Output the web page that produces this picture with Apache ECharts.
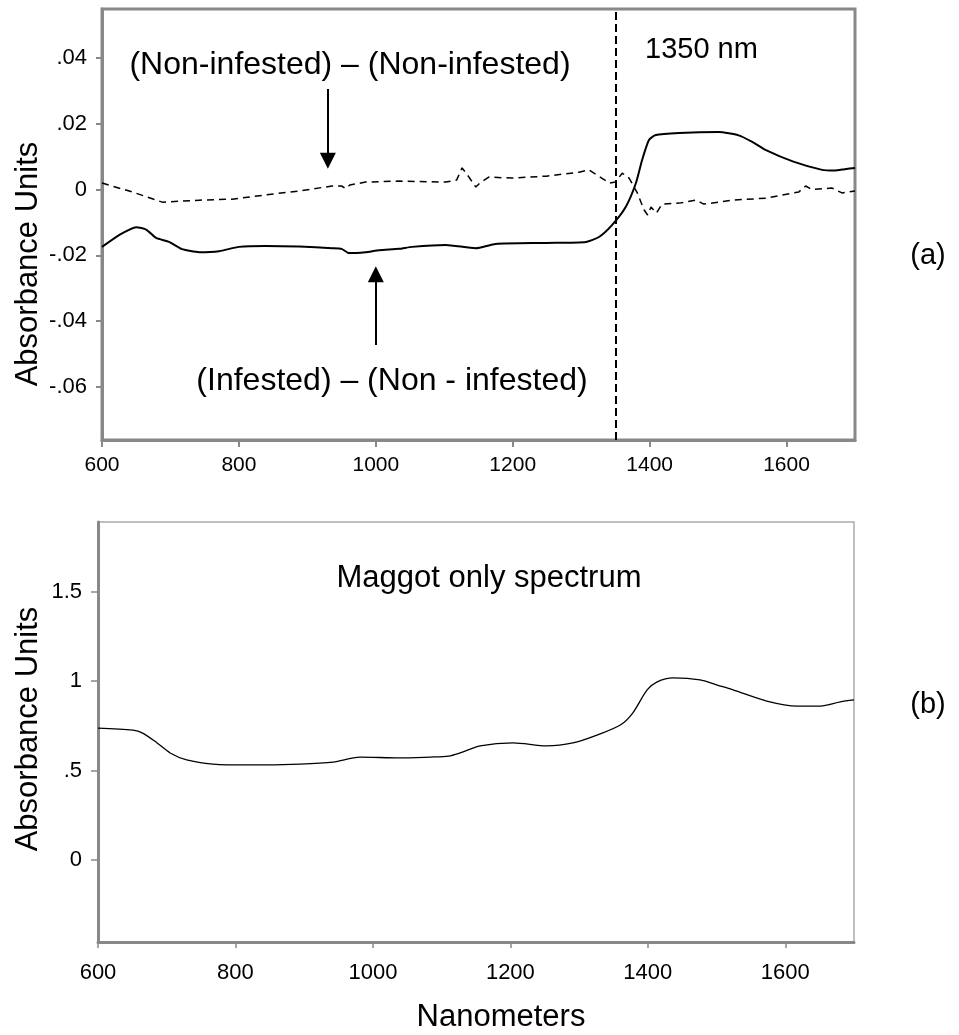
<!DOCTYPE html>
<html>
<head>
<meta charset="utf-8">
<script src="https://cdn.jsdelivr.net/npm/echarts@6/dist/echarts.min.js"></script>
<style>
html,body{margin:0;padding:0;background:#fff;}
#chart{width:959px;height:1035px;}
</style>
</head>
<body>
<div id="chart"></div>
<script>
// ---- Data (wavelength in nm, absorbance units) ----
const infestedNm = [600,625,650,665,679,698,717,742,771,800,839,888,936,950,961,985,1005,1034,1053,1102,1146,1175,1249,1307,1326,1345,1365,1380,1389,1399,1409,1443,1501,1530,1550,1570,1610,1652,1670,1685,1700];
const infestedVal = [-0.0174,-0.0138,-0.0114,-0.0122,-0.0147,-0.0159,-0.0181,-0.019,-0.0187,-0.0174,-0.0171,-0.0173,-0.0178,-0.018,-0.0193,-0.019,-0.0184,-0.018,-0.0174,-0.0168,-0.0178,-0.0165,-0.0162,-0.0159,-0.0144,-0.0108,-0.0053,0.002,0.009,0.0151,0.0166,0.0172,0.0175,0.0165,0.0145,0.012,0.0085,0.006,0.0058,0.0062,0.0066];

const controlNm = [600,644,688,742,790,839,888,936,950,956,962,985,1034,1102,1118,1126,1134,1146,1152,1165,1199,1249,1297,1311,1330,1341,1350,1360,1370,1382,1392,1397,1402,1410,1418,1443,1468,1479,1501,1520,1570,1618,1628,1637,1666,1681,1700];
const controlVal = [0.002,-0.0007,-0.0038,-0.0032,-0.0029,-0.0016,-0.0004,0.0011,0.0011,0.0003,0.0014,0.0023,0.0026,0.0023,0.0029,0.0066,0.0044,0.0008,0.002,0.0038,0.0035,0.0041,0.0053,0.006,0.0035,0.002,0.0023,0.005,0.0035,-0.001,-0.0062,-0.0077,-0.0053,-0.0071,-0.0044,-0.0041,-0.0032,-0.0044,-0.0038,-0.0032,-0.0026,-0.0007,0.0011,0,0.0005,-0.001,-0.0004];

const maggotNm = [600,651,665,686,705,729,767,821,894,942,981,1039,1083,1110,1127,1156,1204,1253,1291,1326,1360,1378,1399,1413,1437,1476,1500,1524,1573,1617,1651,1680,1700];
const maggotVal = [0.737,0.726,0.709,0.654,0.598,0.559,0.536,0.531,0.536,0.547,0.575,0.57,0.575,0.58,0.598,0.637,0.654,0.637,0.654,0.698,0.754,0.821,0.95,0.994,1.017,1.006,0.978,0.95,0.888,0.86,0.86,0.883,0.894];

const xTicks = [600,800,1000,1200,1400,1600];
const yTicksA = [-0.06,-0.04,-0.02,0,0.02,0.04];
const yTicksB = [0,0.5,1,1.5];
const markerNm = 1350;

// annotation arrows (data coordinates): [x, yStart, yEnd]
const arrowDown = [930, 0.0306, 0.0088];
const arrowUp = [1000, -0.0472, -0.0257];

const zip = (a, b) => a.map((v, i) => [v, b[i]]);
const fmtX = v => String(v);
const fmtA = v => v === 0 ? '0' : (v < 0 ? '-' : '') + Math.abs(v).toFixed(2).replace(/^0/, '');
const fmtB = v => v === 0 ? '0' : (v < 1 ? String(v).replace(/^0/, '') : String(v));

const FONT = 'Liberation Sans, Arial, Helvetica, sans-serif';
const GRAY = '#888888';

const chart = echarts.init(document.getElementById('chart'), null, {renderer: 'canvas'});

const option = {
  animation: false,
  backgroundColor: '#ffffff',
  grid: [
    {left: 102, top: 9, width: 753, height: 431, show: true, borderColor: GRAY, borderWidth: 3, outerBoundsMode: 'none'},
    {left: 98, top: 522, width: 756, height: 420, show: true, borderColor: '#aaaaaa', borderWidth: 1.5, outerBoundsMode: 'none'}
  ],
  xAxis: [
    {
      type: 'value', gridIndex: 0, min: 600, max: 1700,
      splitLine: {show: false},
      axisLine: {show: true, onZero: false, lineStyle: {color: GRAY, width: 3}},
      axisTick: {show: true, length: 7, lineStyle: {color: GRAY, width: 2}, customValues: xTicks},
      axisLabel: {customValues: xTicks, formatter: fmtX, fontFamily: FONT, fontSize: 21, color: '#000', margin: 15}
    },
    {
      type: 'value', gridIndex: 1, min: 600, max: 1700,
      splitLine: {show: false},
      axisLine: {show: true, onZero: false, lineStyle: {color: GRAY, width: 3}},
      axisTick: {show: true, length: 6, lineStyle: {color: GRAY, width: 1.5}, customValues: xTicks},
      axisLabel: {customValues: xTicks, formatter: fmtX, fontFamily: FONT, fontSize: 22, color: '#000', margin: 20}
    }
  ],
  yAxis: [
    {
      type: 'value', gridIndex: 0, min: -0.0761, max: 0.0549,
      splitLine: {show: false},
      axisLine: {show: true, onZero: false, lineStyle: {color: GRAY, width: 3}},
      axisTick: {show: true, length: 6, lineStyle: {color: GRAY, width: 2}, customValues: yTicksA},
      axisLabel: {customValues: yTicksA, formatter: fmtA, fontFamily: FONT, fontSize: 22, color: '#000', margin: 15, padding: [18, 0, 0, 0]}
    },
    {
      type: 'value', gridIndex: 1, min: -0.458, max: 1.888,
      splitLine: {show: false},
      axisLine: {show: true, onZero: false, lineStyle: {color: GRAY, width: 3}},
      axisTick: {show: true, length: 7, lineStyle: {color: GRAY, width: 1.5}, customValues: yTicksB},
      axisLabel: {customValues: yTicksB, formatter: fmtB, fontFamily: FONT, fontSize: 22, color: '#000', margin: 16}
    }
  ],
  series: [
    {
      name: '(Infested) – (Non - infested)', type: 'line', xAxisIndex: 0, yAxisIndex: 0,
      data: zip(infestedNm, infestedVal), symbol: 'none', smooth: 0.2,
      lineStyle: {color: '#000', width: 2},
      markLine: {
        silent: true, animation: false,
        label: {show: false},
        lineStyle: {color: '#000', width: 2, type: 'solid'},
        data: [
          [{coord: [arrowDown[0], arrowDown[1]], symbol: 'none'}, {coord: [arrowDown[0], arrowDown[2]], symbol: 'triangle', symbolSize: [16, 16]}],
          [{coord: [arrowUp[0], arrowUp[1]], symbol: 'none'}, {coord: [arrowUp[0], arrowUp[2]], symbol: 'triangle', symbolSize: [16, 16]}]
        ]
      }
    },
    {
      name: '(Non-infested) – (Non-infested)', type: 'line', xAxisIndex: 0, yAxisIndex: 0,
      data: zip(controlNm, controlVal), symbol: 'none',
      lineStyle: {color: '#000', width: 1.5, type: [7, 5]},
      markLine: {
        silent: true, animation: false, symbol: ['none', 'none'],
        label: {show: false},
        lineStyle: {color: '#000', width: 2, type: [8, 4]},
        data: [{xAxis: markerNm}]
      }
    },
    {
      name: 'Maggot only spectrum', type: 'line', xAxisIndex: 1, yAxisIndex: 1,
      data: zip(maggotNm, maggotVal), symbol: 'none', smooth: 0.3,
      lineStyle: {color: '#000', width: 1.3}
    }
  ],
  graphic: [
    {type: 'text', x: 350, y: 65, style: {text: '(Non-infested) – (Non-infested)', font: '32px ' + FONT, fill: '#000', align: 'center', verticalAlign: 'middle'}},
    {type: 'text', x: 392, y: 381, style: {text: '(Infested) – (Non - infested)', font: '32px ' + FONT, fill: '#000', align: 'center', verticalAlign: 'middle'}},
    {type: 'text', x: 645, y: 50, style: {text: '1350 nm', font: '29px ' + FONT, fill: '#000', align: 'left', verticalAlign: 'middle'}},
    {type: 'text', x: 489, y: 578, style: {text: 'Maggot only spectrum', font: '31px ' + FONT, fill: '#000', align: 'center', verticalAlign: 'middle'}},
    {type: 'text', x: 928, y: 256, style: {text: '(a)', font: '29px ' + FONT, fill: '#000', align: 'center', verticalAlign: 'middle'}},
    {type: 'text', x: 928, y: 705, style: {text: '(b)', font: '29px ' + FONT, fill: '#000', align: 'center', verticalAlign: 'middle'}},
    {type: 'text', x: 28, y: 264, rotation: Math.PI / 2, style: {text: 'Absorbance Units', font: '31px ' + FONT, fill: '#000', align: 'center', verticalAlign: 'middle'}},
    {type: 'text', x: 28, y: 729, rotation: Math.PI / 2, style: {text: 'Absorbance Units', font: '31px ' + FONT, fill: '#000', align: 'center', verticalAlign: 'middle'}},
    {type: 'text', x: 501, y: 1017, style: {text: 'Nanometers', font: '31px ' + FONT, fill: '#000', align: 'center', verticalAlign: 'middle'}}
  ]
};

chart.setOption(option);
</script>
</body>
</html>
